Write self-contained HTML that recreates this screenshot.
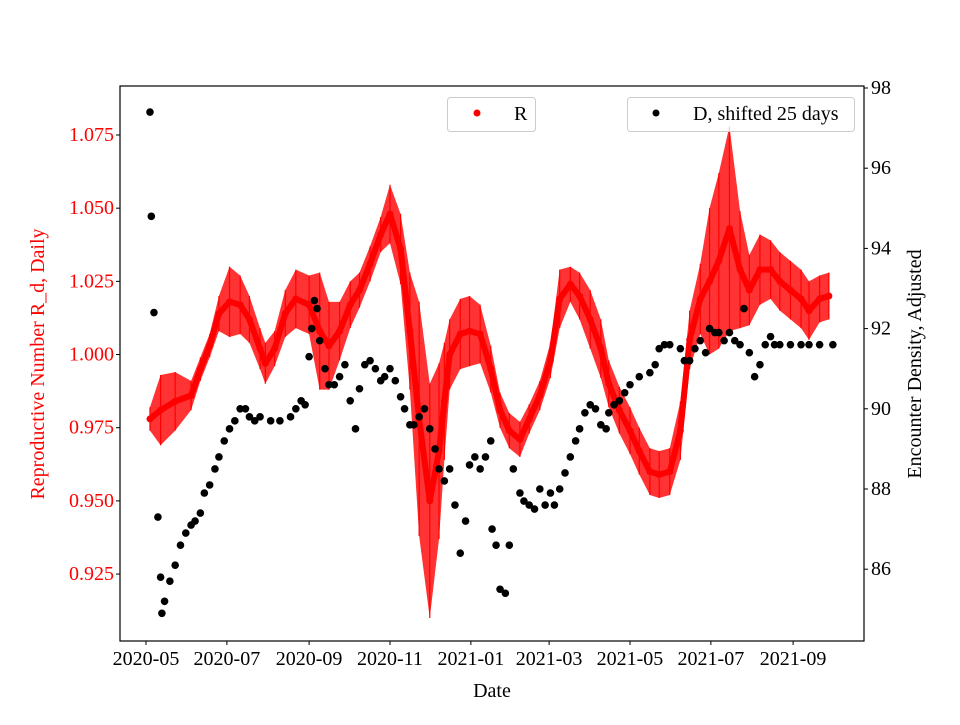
<!DOCTYPE html>
<html><head><meta charset="utf-8"><style>
body{margin:0;background:#fff}
svg text{font-family:"Liberation Serif",serif;font-size:20px}
</style></head><body>
<svg id="chart" width="960" height="720" xmlns="http://www.w3.org/2000/svg"></svg>
<script>
const xTickDays=[0,61,123,184,245,304,365,426,488];
const xTickLabels=["2020-05","2020-07","2020-09","2020-11","2021-01","2021-03","2021-05","2021-07","2021-09"];
const leftTicks=[0.925,0.950,0.975,1.000,1.025,1.050,1.075];
const rightTicks=[86,88,90,92,94,96,98];
const rDays=[3,11,22,34,41,48,55,63,71,78,86,90,97,105,113,123,131,138,146,154,161,169,177,184,192,199,206,214,221,225,229,237,244,252,260,267,274,282,289,297,305,312,320,327,335,343,349,357,365,372,380,387,395,403,410,418,425,432,440,448,455,463,471,478,486,494,500,508,515];
const rVals=[0.978,0.981,0.984,0.986,0.995,1.003,1.014,1.018,1.017,1.012,1.002,0.997,1.002,1.014,1.019,1.017,1.008,1.003,1.008,1.017,1.022,1.031,1.041,1.048,1.036,1.008,0.978,0.950,0.967,0.984,1.000,1.007,1.008,1.007,0.995,0.981,0.974,0.971,0.978,0.986,0.998,1.019,1.024,1.020,1.012,1.002,0.990,0.981,0.974,0.967,0.960,0.959,0.960,0.974,1.005,1.019,1.025,1.032,1.043,1.029,1.022,1.029,1.029,1.025,1.022,1.019,1.015,1.019,1.020];
const rErr=[0.004,0.012,0.010,0.005,0.004,0.004,0.006,0.012,0.010,0.008,0.007,0.007,0.006,0.008,0.010,0.010,0.020,0.015,0.010,0.008,0.006,0.006,0.006,0.010,0.012,0.020,0.040,0.040,0.030,0.020,0.012,0.012,0.012,0.010,0.008,0.006,0.006,0.006,0.005,0.005,0.006,0.010,0.006,0.008,0.010,0.010,0.008,0.008,0.008,0.008,0.008,0.008,0.008,0.010,0.010,0.012,0.025,0.030,0.035,0.020,0.012,0.012,0.010,0.010,0.010,0.010,0.010,0.008,0.008];
const dDays=[3,4,6,9,11,12,14,18,22,26,30,34,37,41,44,48,52,55,59,63,67,71,75,78,82,86,94,101,109,113,117,120,123,125,127,129,131,135,138,142,146,150,154,158,161,165,169,173,177,180,184,188,192,195,199,202,206,210,214,218,221,225,229,233,237,241,244,248,252,256,260,261,264,267,271,274,277,282,285,289,293,297,301,305,308,312,316,320,324,327,331,335,339,343,347,349,353,357,361,365,372,380,384,387,391,395,403,406,410,414,418,422,425,429,432,436,440,444,448,451,455,459,463,467,471,474,478,486,494,500,508,518];
const dVals=[97.4,94.8,92.4,87.3,85.8,84.9,85.2,85.7,86.1,86.6,86.9,87.1,87.2,87.4,87.9,88.1,88.5,88.8,89.2,89.5,89.7,90.0,90.0,89.8,89.7,89.8,89.7,89.7,89.8,90.0,90.2,90.1,91.3,92.0,92.7,92.5,91.7,91.0,90.6,90.6,90.8,91.1,90.2,89.5,90.5,91.1,91.2,91.0,90.7,90.8,91.0,90.7,90.3,90.0,89.6,89.6,89.8,90.0,89.5,89.0,88.5,88.2,88.5,87.6,86.4,87.2,88.6,88.8,88.5,88.8,89.2,87.0,86.6,85.5,85.4,86.6,88.5,87.9,87.7,87.6,87.5,88.0,87.6,87.9,87.6,88.0,88.4,88.8,89.2,89.5,89.9,90.1,90.0,89.6,89.5,89.9,90.1,90.2,90.4,90.6,90.8,90.9,91.1,91.5,91.6,91.6,91.5,91.2,91.2,91.5,91.7,91.4,92.0,91.9,91.9,91.7,91.9,91.7,91.6,92.5,91.4,90.8,91.1,91.6,91.8,91.6,91.6,91.6,91.6,91.6,91.6,91.6];

const svg=document.getElementById('chart');
const NS='http://www.w3.org/2000/svg';
const L=120,R=864,T=86,B=641;
const xS=d=>146+1.326*d;
const yL=v=>135+(1.075-v)*2927;
const yR=v=>88+(98-v)*40.1;
function mk(tag,attrs,parent){const e=document.createElementNS(NS,tag);for(const k in attrs)e.setAttribute(k,attrs[k]);(parent||svg).appendChild(e);return e;}

let up=[],dn=[];
rDays.forEach((d,i)=>{up.push(xS(d)+','+yL(rVals[i]+rErr[i]));dn.unshift(xS(d)+','+yL(rVals[i]-rErr[i]));});
const band=mk('polygon',{points:up.concat(dn).join(' '),fill:'#ff0000','fill-opacity':'0.8'});


const gR=mk('g',{});


rDays.forEach((d,i)=>{
  const eb=mk('line',{x1:xS(d),x2:xS(d),y1:yL(rVals[i]+rErr[i]),y2:yL(rVals[i]-rErr[i]),stroke:'#ff0000','stroke-width':1.2},gR);
  
  
});
const rl=mk('polyline',{points:rDays.map((d,i)=>xS(d)+','+yL(rVals[i])).join(' '),fill:'none',stroke:'#ff0000','stroke-width':6,'stroke-linejoin':'round'},gR);


rDays.forEach((d,i)=>{
  const c=mk('circle',{cx:xS(d),cy:yL(rVals[i]),r:3.5,fill:'#ff0000'},gR);
  
  
});
const gD=mk('g',{});


dDays.forEach((d,i)=>{
  const c=mk('circle',{cx:xS(d),cy:yR(dVals[i]),r:3.8,fill:'#000'},gD);
  
  
});
const fr=mk('rect',{x:L,y:T,width:R-L,height:B-T,fill:'none',stroke:'#000','stroke-width':1.2});


xTickDays.forEach((d,i)=>{
  const x=xS(d);
  const t=mk('line',{x1:x,x2:x,y1:B,y2:B+4,stroke:'#000'});
  
  
  const tx=mk('text',{x:x,y:B+24,'text-anchor':'middle'});
  tx.textContent=xTickLabels[i];
  
  
});
leftTicks.forEach(v=>{
  const y=yL(v);
  const t=mk('line',{x1:L-4,x2:L,y1:y,y2:y,stroke:'#000'});
  
  
  const tx=mk('text',{x:L-6,y:y+6,'text-anchor':'end',fill:'#ff0000'});
  tx.textContent=v.toFixed(3);
  
  
});
rightTicks.forEach(v=>{
  const y=yR(v);
  const t=mk('line',{x1:R,x2:R+4,y1:y,y2:y,stroke:'#000'});
  
  
  const tx=mk('text',{x:R+7,y:y+6});
  tx.textContent=v;
  
  
});
</script>
<svg style="position:absolute;left:0;top:0" width="960" height="720" xmlns="http://www.w3.org/2000/svg">
<text x="492" y="697" text-anchor="middle">Date</text>
<text transform="translate(44,364) rotate(-90)" text-anchor="middle" fill="#ff0000">Reproductive Number R_d, Daily</text>
<text transform="translate(921,364) rotate(-90)" text-anchor="middle">Encounter Density, Adjusted</text>
<g>
<rect x="447.5" y="97.5" width="88" height="34" rx="3" fill="#fff" fill-opacity="0.8" stroke="#ccc"/>
<circle cx="477" cy="113" r="3.5" fill="#ff0000"/>
<text x="514" y="120">R</text>
</g>
<g>
<rect x="627.5" y="97.5" width="227" height="34" rx="3" fill="#fff" fill-opacity="0.8" stroke="#ccc"/>
<circle cx="656" cy="113" r="3.5" fill="#000"/>
<text x="693" y="120">D, shifted 25 days</text>
</g>
</svg>
</body></html>
